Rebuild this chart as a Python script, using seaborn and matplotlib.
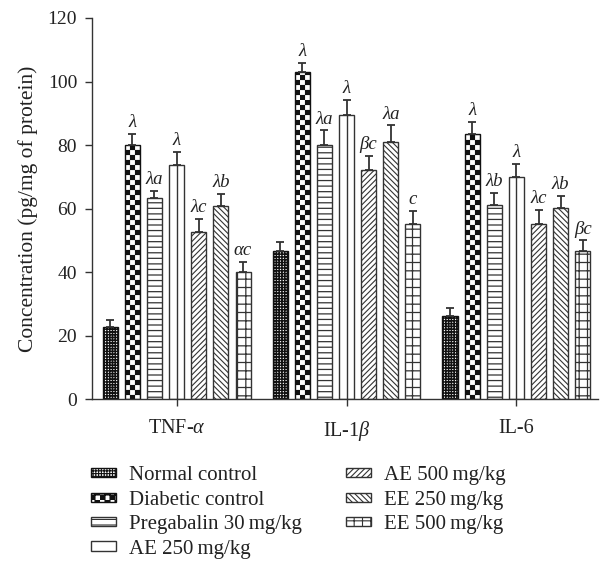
import warnings
warnings.filterwarnings('ignore')
import numpy as np
import pandas as pd
import matplotlib
matplotlib.use('Agg')
import matplotlib.pyplot as plt
import matplotlib.hatch as mhatch
from matplotlib.path import Path
import seaborn as sns

# ---------------- data ----------------
groups = ["Normal control", "Diabetic control", "Pregabalin 30\u2009mg/kg",
          "AE 250\u2009mg/kg", "AE 500\u2009mg/kg", "EE 250\u2009mg/kg", "EE 500\u2009mg/kg"]
cytokines = ["TNF-$\\alpha$", "IL-1$\\beta$", "IL-6"]

tnf = [22.9, 80.1, 63.3, 73.6, 52.6, 60.9, 40.2]
tnf_err = [2.1, 3.5, 2.4, 4.3, 4.1, 3.8, 3.0]
il1b = [46.8, 102.9, 80.1, 89.5, 72.2, 81.1, 55.1]
il1b_err = [2.8, 3.0, 4.5, 4.8, 4.5, 5.1, 4.2]
il6 = [26.2, 83.6, 61.0, 70.1, 55.1, 60.3, 46.8]
il6_err = [2.5, 3.6, 3.9, 4.0, 4.5, 3.8, 3.2]

tnf_sig = ["", "λ", "λa", "λ", "λc", "λb", "αc"]
il1b_sig = ["", "λ", "λa", "λ", "βc", "λa", "c"]
il6_sig = ["", "λ", "λb", "λ", "λc", "λb", "βc"]

values = [tnf, il1b, il6]
errors = [tnf_err, il1b_err, il6_err]
sigs = [tnf_sig, il1b_sig, il6_sig]

df = pd.DataFrame({
    "cytokine": np.repeat(cytokines, len(groups)),
    "group": groups * len(cytokines),
    "value": np.concatenate(values),
})


# ---------------- custom checkerboard hatch ----------------
class CheckerHatch(mhatch.HatchPatternBase):
    def __init__(self, hatch, density):
        k = hatch.count('C')
        self.n = 20 * k
        self.num_vertices = (self.n * self.n // 2) * 5 if k else 0

    def set_vertices_and_codes(self, vertices, codes):
        n = self.n
        s = 1.0 / n
        idx = 0
        for i in range(n):
            for j in range(n):
                if (i + j) % 2 == 0:
                    x0, y0 = i * s, j * s
                    vertices[idx:idx + 5] = [[x0, y0], [x0 + s, y0], [x0 + s, y0 + s],
                                             [x0, y0 + s], [x0, y0]]
                    codes[idx] = Path.MOVETO
                    codes[idx + 1:idx + 4] = Path.LINETO
                    codes[idx + 4] = Path.CLOSEPOLY
                    idx += 5


mhatch._hatch_types.append(CheckerHatch)

# ---------------- style ----------------
sns.set_theme(style="ticks")
plt.rcParams['font.family'] = ['Liberation Serif', 'DejaVu Serif']
plt.rcParams['mathtext.fontset'] = 'custom'
plt.rcParams['mathtext.rm'] = 'Liberation Serif'
plt.rcParams['mathtext.it'] = 'Liberation Serif:italic'
plt.rcParams['hatch.linewidth'] = 0.8

dark = '#333333'
txt = '#222222'

fig = plt.figure(figsize=(6.02, 5.70), dpi=100)
ax = fig.add_axes([0.1523, 0.2995, 0.841, 0.669])

sns.barplot(data=df, x="cytokine", y="value", hue="group", order=cytokines,
            hue_order=groups, palette=['white'] * len(groups), width=0.912, gap=0.32,
            errorbar=None, legend=False, linewidth=1.0, edgecolor=dark, ax=ax)

hatches = ['++++++', 'C', '---', '', '//////', '\\\\\\\\\\\\', '++']
edgecols = ['#111111', '#111111', dark, dark, dark, dark, dark]
hatch_lws = [1.1, 0.1, 0.9, 0.9, 0.8, 0.8, 0.9]


def set_hlw(p, lw):
    if hasattr(p, 'set_hatch_linewidth'):
        p.set_hatch_linewidth(lw)
    else:
        p._hatch_linewidth = lw


bar_conts = list(ax.containers)
for i, cont in enumerate(bar_conts):
    for j, bar in enumerate(cont.patches):
        bar.set_facecolor('white')
        bar.set_edgecolor(edgecols[i])
        bar.set_hatch(hatches[i])
        set_hlw(bar, hatch_lws[i])
        bar.set_linewidth(1.0)
        xc = bar.get_x() + bar.get_width() / 2
        top = bar.get_height()
        if i == 3:
            ax.vlines(xc, 0, top, color=dark, lw=1.0, zorder=bar.get_zorder() + 0.1)
        err = errors[j][i]
        ax.errorbar(xc, top, yerr=[[0], [err]], fmt='none', ecolor=dark,
                    elinewidth=1.3, capsize=3, capthick=1.3, zorder=3)
        if sigs[j][i]:
            ax.annotate(sigs[j][i], (xc, top + err), xytext=(0, 2),
                        textcoords='offset points', ha='center', va='bottom',
                        fontsize=13.5, fontstyle='italic', color=txt)

ax.set_xlim(-0.5, 2.48)
ax.set_ylim(0, 120)
ax.set_yticks(np.arange(0, 121, 20))
ax.set_xlabel("")
ax.set_ylabel("Concentration (pg/mg of protein)", fontsize=15.5, color=txt, labelpad=7)
ax.tick_params(axis='both', direction='out', length=5, width=1.0, color=dark,
               labelsize=14, labelcolor=txt)
ax.tick_params(axis='y', pad=5.5)
ax.tick_params(axis='x', pad=9.5, labelsize=14.5)
sns.despine(ax=ax)
for s in ['left', 'bottom']:
    ax.spines[s].set_color(dark)
    ax.spines[s].set_linewidth(1.0)

leg_kw = dict(loc='upper left', frameon=False, fontsize=15, borderpad=0,
              borderaxespad=0, handlelength=1.2, handleheight=0.31,
              handletextpad=0.62, labelspacing=0.26, labelcolor=txt)
leg1 = fig.legend(bar_conts[0:4], groups[0:4], bbox_to_anchor=(0.1507, 0.182),
                  bbox_transform=fig.transFigure, **leg_kw)
leg2 = fig.legend(bar_conts[4:7], groups[4:7], bbox_to_anchor=(0.5743, 0.182),
                  bbox_transform=fig.transFigure, **leg_kw)

fig.savefig("out.png", dpi=100)
